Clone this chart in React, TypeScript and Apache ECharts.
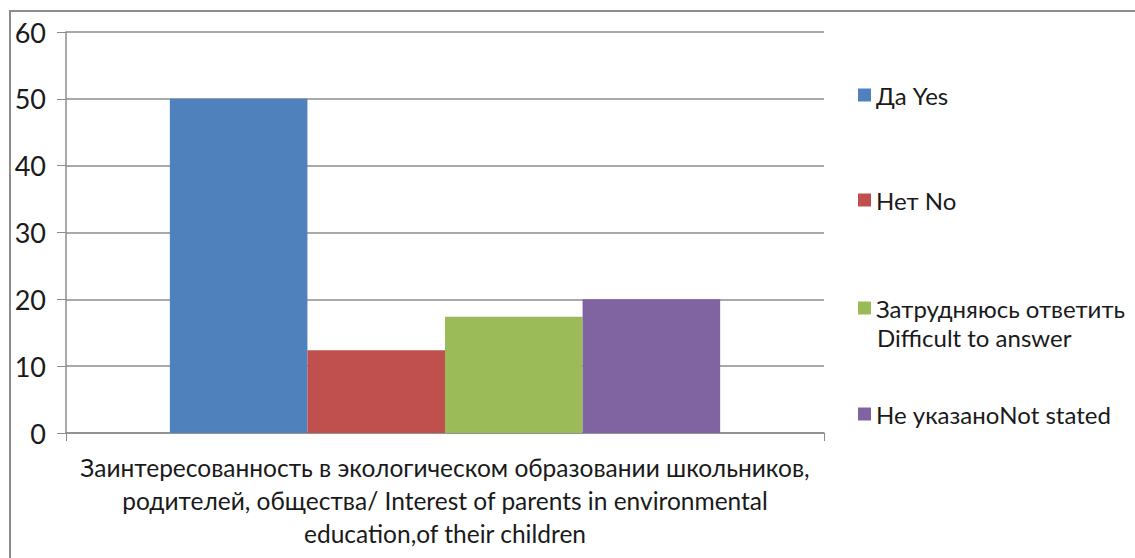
import React, { useEffect, useRef } from "react";
import * as echarts from "echarts";

const categories = [
  "Заинтересованность в экологическом образовании школьников,\nродителей, общества/ Interest of parents in environmental\neducation,of their children",
];
const seriesNames = [
  "Да Yes",
  "Нет No",
  "Затрудняюсь ответить Difficult to answer",
  "Не указаноNot stated",
];
const legendLines = [
  ["Да Yes"],
  ["Нет No"],
  ["Затрудняюсь ответить", "Difficult to answer"],
  ["Не указаноNot stated"],
];
const seriesValues = [50, 12.4, 17.4, 20];
const colors = ["#4F81BD", "#C0504D", "#9BBB59", "#8064A2"];
const legendCenters = [95, 200, 308, 414];

export default function App() {
  const ref = useRef<HTMLDivElement>(null);
  useEffect(() => {
    if (!ref.current) return;
    const chart = echarts.init(ref.current, undefined, { renderer: "svg" });
    const font = "Lato, 'Open Sans', sans-serif";
    const textColor = "#1a1a1a";
    const extra: any[] = [];
    legendLines.forEach((lines, i) => {
      lines.slice(1).forEach((l, j) => {
        extra.push({
          type: "text",
          left: 877,
          top: legendCenters[i] + 31 * (j + 1) - 14,
          style: { text: l, fontSize: 24, fill: textColor, fontFamily: font },
          silent: true,
        });
      });
    });
    chart.setOption({
      animation: false,
      textStyle: { fontFamily: font },
      grid: { left: 66, right: 311, top: 32, bottom: 125 },
      graphic: [
        {
          type: "rect",
          shape: { x: 10, y: 11, width: 1200, height: 700 },
          style: { fill: "none", stroke: "#8c8c8c", lineWidth: 2 },
          silent: true,
        },
        ...extra,
      ],
      legend: seriesNames.map((n, i) => ({
        data: [n],
        left: 853,
        top: legendCenters[i] - 20.5,
        orient: "vertical",
        icon: "rect",
        itemWidth: 13,
        itemHeight: 13,
        itemGap: 8,
        formatter: () => legendLines[i][0],
        textStyle: { fontSize: 24, color: textColor, fontFamily: font, lineHeight: 31 },
      })),
      xAxis: {
        type: "category",
        data: categories,
        axisLine: { lineStyle: { color: "#8c8c8c", width: 1.5 } },
        axisTick: { show: true, length: 8, lineStyle: { color: "#8c8c8c" } },
        axisLabel: {
          fontSize: 24.5,
          color: textColor,
          lineHeight: 33,
          margin: 18,
          fontFamily: font,
        },
      },
      yAxis: {
        type: "value",
        min: 0,
        max: 60,
        interval: 10,
        axisLine: { show: true, lineStyle: { color: "#8c8c8c", width: 1.5 } },
        axisTick: { show: true, length: 9, lineStyle: { color: "#8c8c8c" } },
        splitLine: { show: true, lineStyle: { color: "#8c8c8c", width: 1.5 } },
        axisLabel: { fontSize: 27, color: textColor, margin: 20, fontFamily: font },
      },
      series: seriesNames.map((n, i) => ({
        name: n,
        type: "bar",
        data: [seriesValues[i]],
        barGap: "0%",
        barCategoryGap: "27.4%",
        itemStyle: { color: colors[i] },
      })),
    });
    return () => chart.dispose();
  }, []);
  return (
    <div
      ref={ref}
      style={{ position: "absolute", left: 0, top: 0, width: 1135, height: 558 }}
    />
  );
}
